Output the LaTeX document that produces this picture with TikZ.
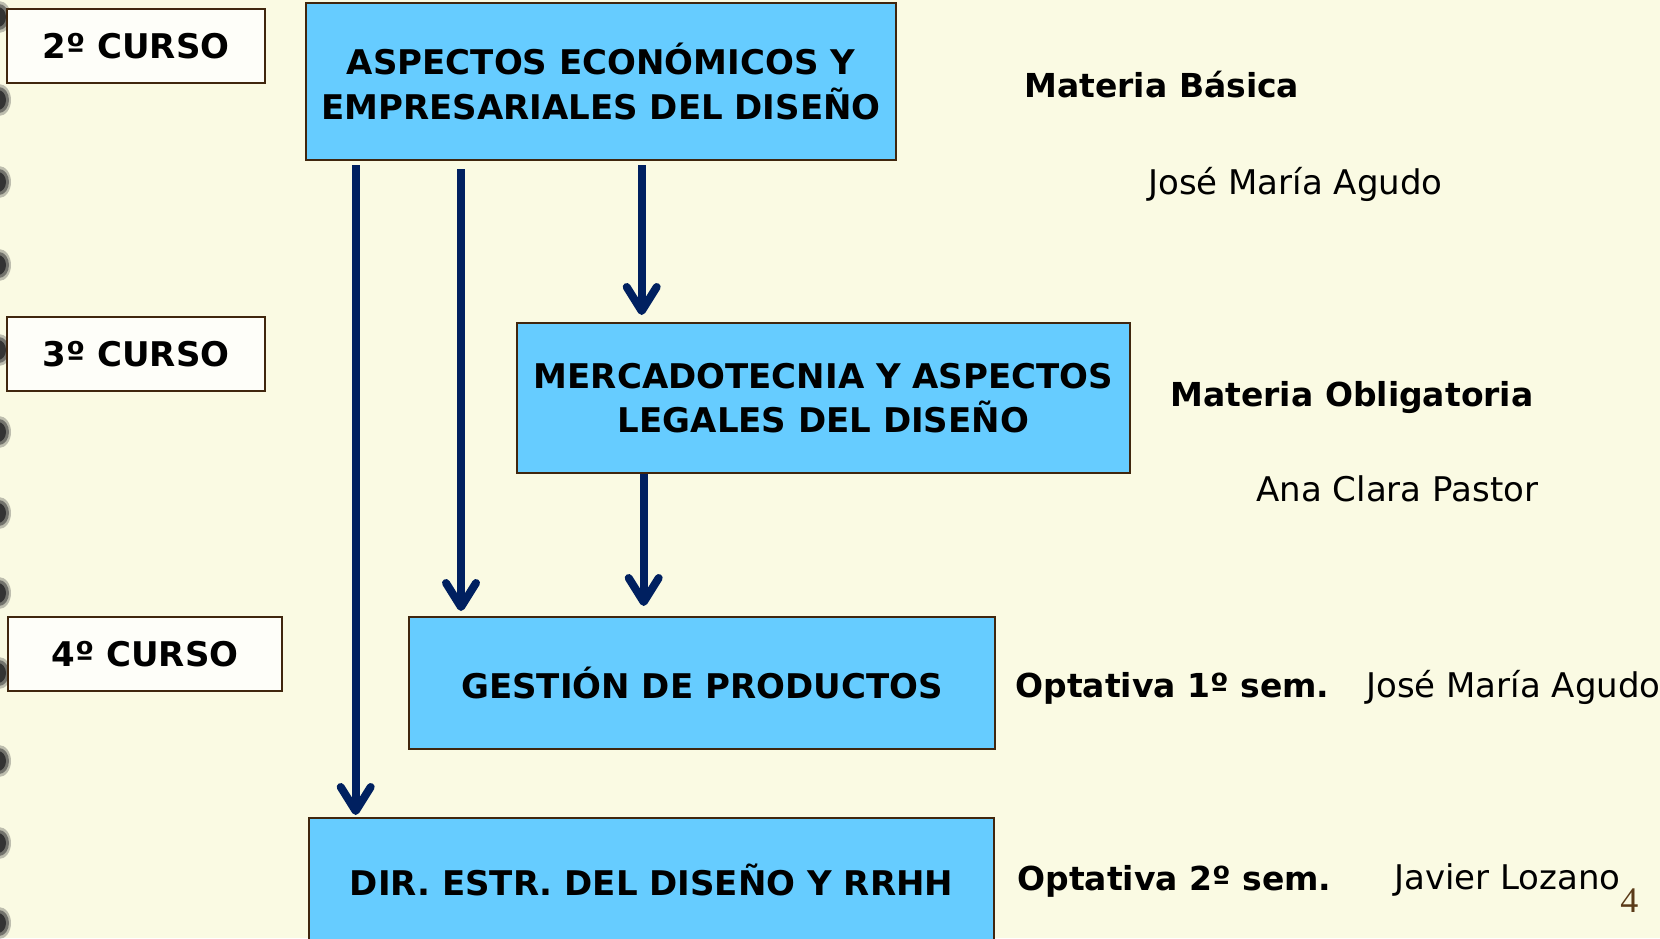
\documentclass[tikz,border=0pt]{standalone}
\usepackage{fontspec}
\setmainfont{DejaVu Sans}
\newfontfamily\pagefont{Liberation Serif}
\usetikzlibrary{arrows.meta}
\definecolor{cream}{RGB}{250,250,227}
\definecolor{skyfill}{HTML}{66CCFF}
\definecolor{framebrown}{RGB}{64,38,14}
\definecolor{navy}{HTML}{002060}
\definecolor{pagebrown}{RGB}{90,58,24}

\begin{document}
\begin{tikzpicture}[x=0.5pt,y=-0.5pt]
            \tikzstyle{materia}=[draw=framebrown, line width=1pt, fill=skyfill,
            inner sep=0pt, align=center, font=\fontsize{17}{22.25}\selectfont\bfseries]
            \tikzstyle{curso}=[draw=framebrown, line width=1pt, fill=white!80!cream,
            inner sep=0pt, font=\fontsize{17}{20}\selectfont\bfseries]
            \tikzstyle{tipo}=[anchor=base west, inner sep=0pt,
            font=\fontsize{16.5}{20}\selectfont\bfseries]
            \tikzstyle{profe}=[anchor=base west, inner sep=0pt,
            font=\fontsize{17}{20}\selectfont]
            \tikzstyle{flecha}=[draw=navy, line width=4pt,
            -{Straight Barb[length=12pt, width=15pt, round]}]

            \useasboundingbox (0,0) rectangle (1660,938);
            \clip (0,0) rectangle (1660,938);
            \fill[cream] (0,0) rectangle (1660,938);

            % anillas de la libreta
            \foreach \y in {17,100,182,265,350,432,513,593,673,761,843,923}
            {
            \fill[black!70, opacity=.35] (-1,\y) ellipse (12 and 16);
            \fill[black!75, opacity=.6] (-1,\y) ellipse (10 and 13);
            \fill[black!80] (-2,\y) ellipse (8 and 10);
            }

            % cursos
            \node[curso, minimum width=129pt, minimum height=37pt] (c2) at (136,46) {2º CURSO};
            \node[curso, minimum width=129pt, minimum height=37pt] (c3) at (136,354) {3º CURSO};
            \node[curso, minimum width=137pt, minimum height=37pt] (c4) at (145,654) {4º CURSO};

            % asignaturas
            \node[materia, minimum width=295pt, minimum height=78.5pt] (eco) at (601,81.5)
            {ASPECTOS ECONÓMICOS Y\\EMPRESARIALES DEL DISEÑO};
            \node[materia, minimum width=306.5pt, minimum height=75pt] (merca) at (823.5,398)
            {MERCADOTECNIA Y ASPECTOS\\LEGALES DEL DISEÑO};
            \node[materia, minimum width=293pt, minimum height=65.75pt] (gest) at (702,682.75)
            {GESTIÓN DE PRODUCTOS};
            \node[materia, minimum width=342.5pt, minimum height=62pt] (dir) at (651.5,880)
            {DIR. ESTR. DEL DISEÑO Y RRHH};

            % tipo y profesor
            \node[tipo] (t1) at (1024,97) {Materia Básica};
            \node[profe] (p1) at (1148,194) {José María Agudo};
            \node[tipo] (t2) at (1170,406) {Materia Obligatoria};
            \node[profe] (p2) at (1256,501) {Ana Clara Pastor};
            \node[tipo] (t3) at (1015,697) {Optativa 1º sem.};
            \node[profe] (p3) at (1366,697) {José María Agudo};
            \node[tipo] (t4) at (1017,890) {Optativa 2º sem.};
            \node[profe] (p4) at (1394,889) {Javier Lozano};
            \node[anchor=base west, inner sep=0pt, text=pagebrown,
            font=\pagefont\fontsize{18}{20}\selectfont] (pag) at (1620,912) {4};

            % flechas
            \coordinate (x1) at (355.7,0);
            \coordinate (x2) at (461,0);
            \coordinate (x3) at (641.7,0);
            \coordinate (x4) at (643.7,0);
            \draw[flecha, shorten <=2pt, shorten >=1pt] (eco.south -| x1) -- (dir.north -| x1);
            \draw[flecha, shorten <=4pt, shorten >=2.5pt] (eco.south -| x2) -- (gest.north -| x2);
            \draw[flecha, shorten <=2pt, shorten >=3.5pt] (eco.south -| x3) -- (merca.north -| x3);
            \draw[flecha, shorten >=5pt] (merca.south -| x4) -- (gest.north -| x4);
        \end{tikzpicture}
\end{document}
